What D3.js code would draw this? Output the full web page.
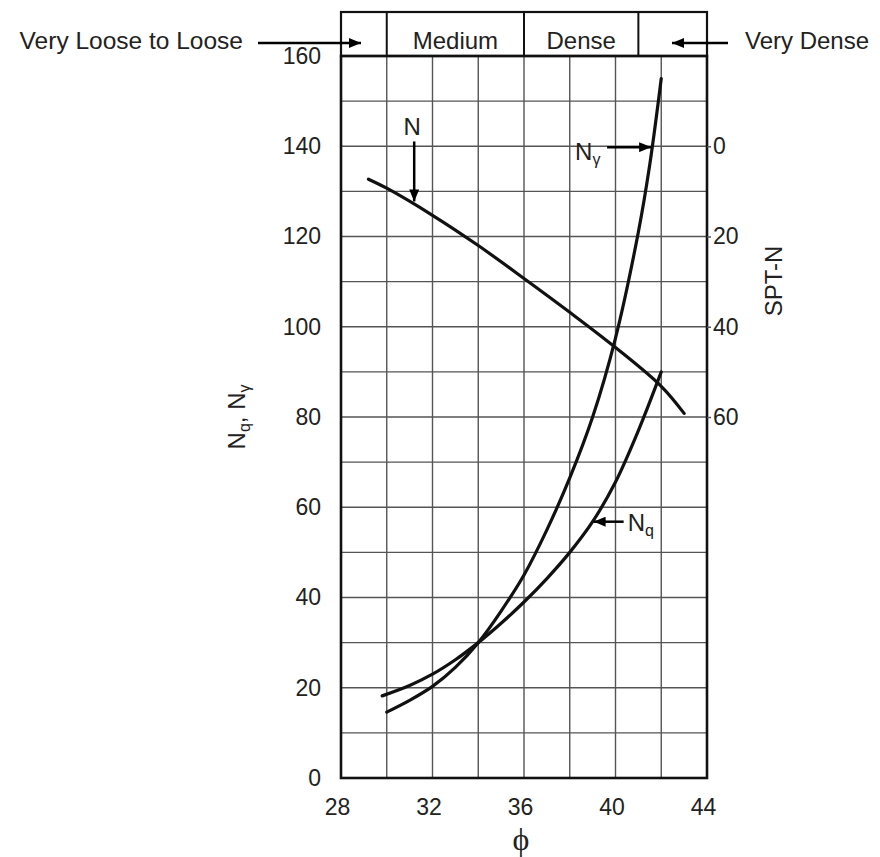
<!DOCTYPE html>
<html>
<head>
<meta charset="utf-8">
<script src="https://cdn.jsdelivr.net/npm/d3@7"></script>
<style>
  html, body { margin: 0; padding: 0; background: #fff; }
  svg { display: block; font-family: "Liberation Sans", Arial, sans-serif; }
</style>
</head>
<body>
<svg id="chart" width="880" height="857"></svg>
<script>
// Friction angle axis and bearing capacity factor axis ticks
const phiTicks = [28, 32, 36, 40, 44];
const factorTicks = [0, 20, 40, 60, 80, 100, 120, 140, 160];
const sptTicks = [0, 20, 40, 60];
const phiGrid = [30, 32, 34, 36, 38, 40, 42];
const factorGrid = [10, 20, 30, 40, 50, 60, 70, 80, 90, 100, 110, 120, 130, 140, 150];

// Relative density bands along phi
const bandEdges = [30, 36, 41];
const bandLabels = [
  { text: "Medium", from: 30, to: 36 },
  { text: "Dense", from: 36, to: 41 }
];

// N_gamma versus phi
const ngPhi = [30, 31, 32, 33, 34, 35, 36, 37, 38, 39, 40, 41, 41.5, 42];
const ngVal = [14.6, 17.2, 20.3, 24.5, 30, 37, 45, 55, 66.5, 80, 97.5, 121, 136, 155];

// N_q versus phi
const nqPhi = [29.8, 31, 32, 33, 34, 35, 36, 37, 38, 39, 40, 41, 42];
const nqVal = [18.2, 20.5, 23, 26.2, 30, 34.3, 39, 44.2, 50, 56.8, 65.6, 77, 90];

// SPT blow count N versus phi (right axis)
const sptPhi = [29.2, 30, 32, 34, 36, 38, 40, 42, 43];
const sptVal = [7.3, 9.3, 15.3, 22, 29.3, 36.8, 44.6, 53.2, 59.2];

// Curve call-outs: phi where each arrow touches its curve
const calloutN = 31.2;
const calloutNg = 41.6;
const calloutNq = 39.0;

const svg = d3.select("#chart");

const x = d3.scaleLinear().domain([28, 44]).range([341, 707]);
const y = d3.scaleLinear().domain([0, 160]).range([778, 56]);
// SPT-N runs downward: 0 sits level with 140, 60 level with 80
const ySpt = d3.scaleLinear().domain([0, 60]).range([y(140), y(80)]);

const bandTop = 12;
const labelSize = 24;
const tickSize = 23;

// arrow marker
const defs = svg.append("defs");
defs.append("marker")
  .attr("id", "head")
  .attr("viewBox", "0 0 12 10")
  .attr("refX", 12).attr("refY", 5)
  .attr("markerWidth", 12).attr("markerHeight", 10)
  .attr("markerUnits", "userSpaceOnUse")
  .attr("orient", "auto")
  .append("path").attr("d", "M0,0 L12,5 L0,10 Z").attr("fill", "#000");

// grid
const grid = svg.append("g").attr("stroke", "#555").attr("stroke-width", 1.4);
grid.selectAll("line.v").data(phiGrid).join("line")
  .attr("x1", d => x(d)).attr("x2", d => x(d))
  .attr("y1", y(0)).attr("y2", y(160));
grid.selectAll("line.h").data(factorGrid).join("line")
  .attr("x1", x(28)).attr("x2", x(44))
  .attr("y1", d => y(d)).attr("y2", d => y(d));

// density band box
const band = svg.append("g");
band.append("rect")
  .attr("x", x(28)).attr("y", bandTop)
  .attr("width", x(44) - x(28)).attr("height", y(160) - bandTop)
  .attr("fill", "none").attr("stroke", "#111").attr("stroke-width", 2.2);
band.selectAll("line").data(bandEdges).join("line")
  .attr("x1", d => x(d)).attr("x2", d => x(d))
  .attr("y1", bandTop).attr("y2", y(160))
  .attr("stroke", "#111").attr("stroke-width", 2);
band.selectAll("text").data(bandLabels).join("text")
  .attr("x", d => (x(d.from) + x(d.to)) / 2)
  .attr("y", 49)
  .attr("text-anchor", "middle")
  .attr("font-size", labelSize).attr("fill", "#222")
  .text(d => d.text);

// outside band labels with arrows
svg.append("text").attr("x", 243).attr("y", 49).attr("text-anchor", "end")
  .attr("font-size", 24.5).attr("fill", "#222").text("Very Loose to Loose");
svg.append("line").attr("x1", 258).attr("x2", 361).attr("y1", 43).attr("y2", 43)
  .attr("stroke", "#000").attr("stroke-width", 2.5).attr("marker-end", "url(#head)");
svg.append("text").attr("x", 745).attr("y", 49)
  .attr("font-size", labelSize).attr("fill", "#222").text("Very Dense");
svg.append("line").attr("x1", 728).attr("x2", 672).attr("y1", 43).attr("y2", 43)
  .attr("stroke", "#000").attr("stroke-width", 2.5).attr("marker-end", "url(#head)");

// plot frame
svg.append("rect")
  .attr("x", x(28)).attr("y", y(160))
  .attr("width", x(44) - x(28)).attr("height", y(0) - y(160))
  .attr("fill", "none").attr("stroke", "#111").attr("stroke-width", 2.6);

// axes
const axisLeft = svg.append("g").attr("transform", `translate(${x(28)},0)`)
  .call(d3.axisLeft(y).tickValues(factorTicks).tickSize(0).tickPadding(20));
const axisBottom = svg.append("g").attr("transform", `translate(0,${y(0)})`)
  .call(d3.axisBottom(x).tickValues(phiTicks).tickSize(0).tickPadding(21));
const axisRight = svg.append("g").attr("transform", `translate(${x(44)},0)`)
  .call(d3.axisRight(ySpt).tickValues(sptTicks).tickSize(4).tickPadding(2));
[axisLeft, axisBottom, axisRight].forEach(g => {
  g.select(".domain").remove();
  g.selectAll("text").attr("font-size", tickSize).attr("fill", "#222")
    .attr("font-family", "Liberation Sans, Arial, sans-serif");
  g.selectAll(".tick line").attr("stroke", "#555").attr("stroke-width", 1.5);
});
axisBottom.selectAll("text").attr("dx", -4);

// axis titles
const yTitle = svg.append("text")
  .attr("transform", "translate(245,417) rotate(-90)")
  .attr("text-anchor", "middle").attr("font-size", labelSize).attr("fill", "#222");
yTitle.append("tspan").text("N");
yTitle.append("tspan").attr("dy", 5).attr("font-size", 16).text("q");
yTitle.append("tspan").attr("dy", -5).text(", N");
yTitle.append("tspan").attr("dy", 5).attr("font-size", 16).text("\u03B3");

svg.append("text")
  .attr("transform", "translate(782,281) rotate(-90)")
  .attr("text-anchor", "middle").attr("font-size", labelSize).attr("fill", "#222")
  .text("SPT-N");

svg.append("text")
  .attr("x", x(36) - 3).attr("y", 850)
  .attr("text-anchor", "middle")
  .attr("font-family", "Liberation Serif, Times New Roman, serif")
  .attr("font-size", 32).attr("fill", "#222")
  .text("\u03D5");

// curves
const lineF = d3.line().curve(d3.curveCatmullRom.alpha(0.5));
const curves = svg.append("g").attr("fill", "none").attr("stroke", "#111")
  .attr("stroke-width", 3.2).attr("stroke-linecap", "round");
curves.append("path").attr("d", lineF(ngPhi.map((p, i) => [x(p), y(ngVal[i])])));
curves.append("path").attr("d", lineF(nqPhi.map((p, i) => [x(p), y(nqVal[i])])));
curves.append("path").attr("d", lineF(sptPhi.map((p, i) => [x(p), ySpt(sptVal[i])])));

// call-outs
function interp(px, vals, p) {
  for (let i = 0; i < px.length - 1; i++) {
    if (p >= px[i] && p <= px[i + 1]) {
      const t = (p - px[i]) / (px[i + 1] - px[i]);
      return vals[i] + t * (vals[i + 1] - vals[i]);
    }
  }
  return vals[vals.length - 1];
}
const ann = svg.append("g");
const arrow = (x1, y1, x2, y2) => ann.append("line")
  .attr("x1", x1).attr("y1", y1).attr("x2", x2).attr("y2", y2)
  .attr("stroke", "#000").attr("stroke-width", 2.5).attr("marker-end", "url(#head)");

// N
const nTipX = x(calloutN), nTipY = ySpt(interp(sptPhi, sptVal, calloutN)) - 3;
arrow(nTipX, nTipY - 60, nTipX, nTipY);
ann.append("text").attr("x", nTipX - 2).attr("y", nTipY - 66)
  .attr("text-anchor", "middle").attr("font-size", labelSize).attr("fill", "#222").text("N");

// N gamma
const gTipX = x(calloutNg) - 1, gTipY = y(interp(ngPhi, ngVal, calloutNg));
arrow(gTipX - 44, gTipY, gTipX, gTipY);
const gLab = ann.append("text").attr("x", gTipX - 76).attr("y", gTipY + 13)
  .attr("font-size", labelSize).attr("fill", "#222");
gLab.append("tspan").text("N");
gLab.append("tspan").attr("dy", 5).attr("font-size", 16).text("\u03B3");

// N q
const qTipX = x(calloutNq) + 1, qTipY = y(interp(nqPhi, nqVal, calloutNq));
arrow(qTipX + 30, qTipY, qTipX, qTipY);
const qLab = ann.append("text").attr("x", qTipX + 34).attr("y", qTipY + 9)
  .attr("font-size", labelSize).attr("fill", "#222");
qLab.append("tspan").text("N");
qLab.append("tspan").attr("dy", 5).attr("font-size", 16).text("q");
</script>
</body>
</html>
